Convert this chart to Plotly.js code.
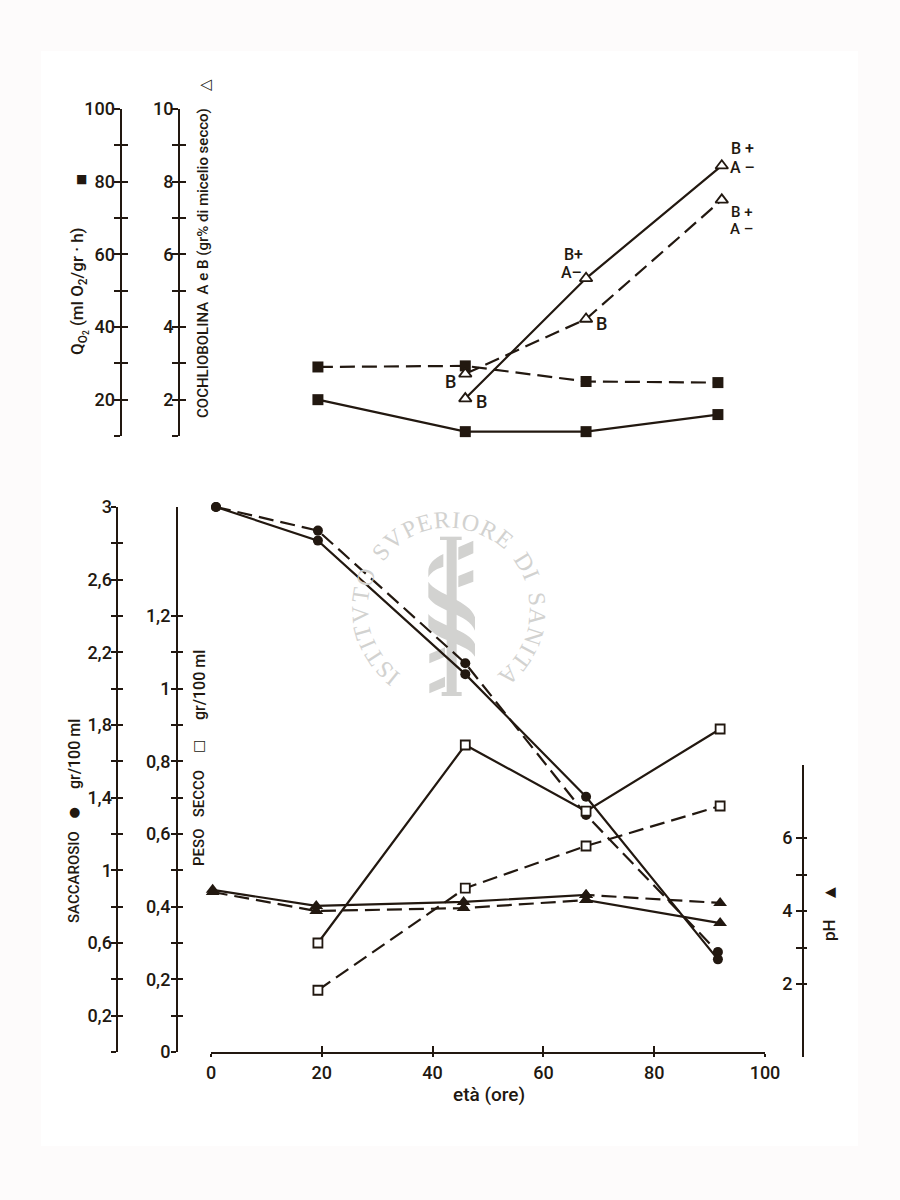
<!DOCTYPE html>
<html><head><meta charset="utf-8">
<script src="https://cdn.plot.ly/plotly-3.0.1.min.js"></script>
<style>html,body{margin:0;padding:0;background:#fdfbfb}</style></head>
<body><div id="chart" style="width:900px;height:1200px"></div>
<script>
// ---- data ----
const hoursQ = [19.3, 45.9, 67.7, 91.5];
const qo2Solid = [20, 11.2, 11.2, 15.9];
const qo2Dashed = [29, 29.3, 25, 24.7];
const hoursTri = [45.9, 67.7, 92.2];
const cochSolid = [2.03, 5.34, 8.44];
const cochDashed = [2.71, 4.22, 7.5];
const hoursSacc = [0.9, 19.3, 45.9, 67.7, 91.5];
const saccSolid = [3, 2.815, 2.08, 1.405, 0.51];
const saccDashed = [3, 2.87, 2.14, 1.305, 0.55];
const hoursPeso = [19.3, 45.9, 67.7, 91.9];
const pesoSolid = [0.30, 0.845, 0.663, 0.889];
const pesoDashed = [0.17, 0.451, 0.567, 0.677];
const hoursPh = [0.3, 19, 45.6, 67.7, 67.7, 91.9];
const phSolid = [4.58, 4.14, 4.25, 4.44, 4.30, 3.67];
const phDashed = [4.52, 4.0, 4.08, 4.30, 4.44, 4.22];
const xTicks = [0, 20, 40, 60, 80, 100];
const qTicks = [10,20,30,40,50,60,70,80,90,100];
const qText = ['','20','','40','','60','','80','','100'];
const cTicks = [1,2,3,4,5,6,7,8,9,10];
const cText = ['','2','','4','','6','','8','','10'];
const sTicks = [0,0.2,0.4,0.6,0.8,1,1.2,1.4,1.6,1.8,2,2.2,2.4,2.6,2.8,3];
const sText = ['','0,2','','0,6','','1','','1,4','','1,8','','2,2','','2,6','','3'];
const pTicks = [0,0.1,0.2,0.3,0.4,0.5,0.6,0.7,0.8,0.9,1,1.1,1.2];
const pText = ['0','','0,2','','0,4','','0,6','','0,8','','1','','1,2'];
const hTicks = [2,3,4,5,6];
const hText = ['2','','4','','6'];
const watermark = 'ISTITVTO SVPERIORE DI SANITA';

// ---- page geometry helpers ----
const W = 900, H = 1200;
const px = v => v / W, py = v => 1 - v / H;
const INK = '#221810', WM = '#d2d2d0';
const FONT = 'Roboto,"Liberation Sans",sans-serif';
const LAB = {family: FONT, size: 18, color: INK, weight: 500};

function line(x, y, ya, dash, sym, size, open) {
  return {x, y, yaxis: ya, mode: 'lines+markers', cliponaxis: false, hoverinfo: 'skip',
    line: {color: INK, width: 2.2, dash: dash ? '15px,7px' : 'solid'},
    marker: {symbol: sym, size, color: open ? '#fff' : INK, line: {color: INK, width: open ? 1.8 : 0}}};
}
const traces = [
  line(hoursQ, qo2Dashed, 'y4', true, 'square', 11, false),
  line(hoursQ, qo2Solid, 'y4', false, 'square', 11, false),
  line(hoursTri, cochDashed, 'y5', true, 'triangle-up', 11, true),
  line(hoursTri, cochSolid, 'y5', false, 'triangle-up', 11, true),
  line(hoursPh, phDashed, 'y3', true, 'triangle-up', 12, false),
  line(hoursPh, phSolid, 'y3', false, 'triangle-up', 12, false),
  line(hoursSacc, saccDashed, 'y', true, 'circle', 10, false),
  line(hoursSacc, saccSolid, 'y', false, 'circle', 10, false),
  line(hoursPeso, pesoDashed, 'y2', true, 'square', 9, true),
  line(hoursPeso, pesoSolid, 'y2', false, 'square', 9, true),
];

const common = {showgrid: false, zeroline: false, showline: true, linecolor: INK, linewidth: 2.2,
  tickcolor: INK, tickwidth: 2, fixedrange: true};
function yAxes(range, top, bottom, pos, vals, text, outLen, inLen, over, standoff) {
  const dom = [py(bottom), py(top)];
  const base = Object.assign({}, common, {range, domain: dom, anchor: 'free', position: px(pos),
    side: 'left', tickmode: 'array', tickvals: vals});
  return [
    Object.assign({}, base, {ticks: 'outside', ticklen: outLen, ticktext: text, tickfont: LAB, ticklabelstandoff: standoff}),
    Object.assign({}, base, {ticks: 'inside', ticklen: inLen, showticklabels: false, showline: false, overlaying: over})
  ];
}
const layout = {
  width: W, height: H, autosize: false, margin: {l: 0, r: 0, t: 0, b: 0},
  paper_bgcolor: '#fdfbfb', plot_bgcolor: 'rgba(0,0,0,0)', showlegend: false, hovermode: false,
  xaxis: Object.assign({}, common, {range: [0, 100], domain: [px(211), px(765)], anchor: 'y', tickmode: 'array',
    tickvals: xTicks, ticktext: xTicks.map(String), ticks: 'outside', ticklen: 3, tickfont: LAB}),
  xaxis2: Object.assign({}, common, {range: [0, 100], domain: [px(211), px(765)], anchor: 'y', overlaying: 'x', tickmode: 'array',
    tickvals: xTicks, showticklabels: false, ticks: 'inside', ticklen: 6, showline: false}),
};
const specs = [
  [[0, 3], 507, 1052, 116.5, sTicks, sText, 5, 5, -5],
  [[0, 1.5], 507, 1052, 177, pTicks, pText, 5, 5, -3],
  [[0, 8], 765, 1057, 803, hTicks, hText, 6, 3, 0],
  [[10, 100], 109, 436, 120.5, qTicks, qText, 6, 6, -5],
  [[1, 10], 109, 436, 179, cTicks, cText, 6, 6, -5],
];
specs.forEach((s, i) => {
  const n = i + 1, name = n === 1 ? 'y' : 'y' + n;
  const [a, b] = yAxes(s[0], s[1], s[2], s[3], s[4], s[5], s[6], s[7], name, s[8]);
  layout['yaxis' + (n === 1 ? '' : n)] = a;
  layout['yaxis' + (n + 5)] = b;
  traces.push({x: [], y: [], yaxis: 'y' + (n + 5), mode: 'lines', hoverinfo: 'skip'});
});
traces.push({x: [], y: [], xaxis: 'x2', yaxis: 'y', mode: 'lines', hoverinfo: 'skip'});

// ---- texts ----
function note(text, x, y, size, angle, extra) {
  return Object.assign({text, xref: 'paper', yref: 'paper', x: px(x), y: py(y), showarrow: false,
    xanchor: 'center', yanchor: 'middle', textangle: angle || 0,
    font: {family: FONT, size: size, color: INK, weight: 500}}, extra || {});
}
const SYM = (s, w) => ({font: {family: '"DejaVu Sans"', size: s, color: INK, weight: w || 400}});
const ann = [
  note('Q<sub>O<sub>2</sub></sub> (ml O<sub>2</sub>/gr · h)', 79, 291, 17, -90),
  note('■', 81, 179, 12, 0, SYM(12)),
  note('COCHLIOBOLINA  A e B (gr% di micelio secco)', 203, 263, 15, -90),
  note('△', 205, 85, 15, -90, SYM(15, 700)),
  note('SACCAROSIO', 74, 877, 15, -90),
  note('●', 74, 811, 12, 0, SYM(13)),
  note('gr/100 ml', 74, 754, 16, -90),
  note('PESO   SECCO', 199, 818, 15, -90),
  note('□', 199, 745, 12, 0, SYM(14, 700)),
  note('gr/100 ml', 199, 685, 16, -90),
  note('pH', 829, 930, 17, -90),
  note('▲', 829, 893, 13, -90, SYM(14)),
  note('età (ore)', 489, 1094, 19, 0),
  note('B+', 573, 254, 16), note('A–', 571, 272, 16),
  note('B +', 742, 149, 16), note('A –', 742, 167, 16),
  note('B +', 742, 212, 15), note('A –', 741, 229, 15),
  note('B', 601, 323, 18), note('B', 450, 381, 18), note('B', 481, 402, 18),
];

// circular watermark, letters spaced by their widths
const CX = 449, CY = 609, R = 89, A0 = -141, A1 = 138;
const wid = {I: .33, S: .56, T: .61, V: .72, O: .72, P: .56, E: .61, R: .67, D: .72, N: .72, A: .72, ' ': .42};
const chars = [...watermark];
const adv = [];
let sum = 0;
chars.forEach((c, i) => { adv.push(sum + wid[c] / 2); sum += wid[c]; });
const first = adv[0], last = adv[adv.length - 1];
chars.forEach((ch, i) => {
  if (ch === ' ') return;
  const deg = A0 + (A1 - A0) * (adv[i] - first) / (last - first), t = deg * Math.PI / 180;
  ann.unshift(note(ch, CX + R * Math.sin(t), CY - R * Math.cos(t), 24, deg,
    {font: {family: '"Liberation Serif"', size: 24, color: WM}}));
});
layout.annotations = ann;

// ---- scan background and watermark emblem, in page pixels (crop coordinates) ----
const Z = (X, Y) => px(340 + X / 3) + ',' + py(510 + Y / 3);
const poly = pts => 'M' + pts.map(p => Z(p[0], p[1])).join(' L') + ' Z';
const curve = (a, b, c, d, e, f, g, h) => 'M' + Z(...a) + ' C' + Z(...b) + ' ' + Z(...c) + ' ' + Z(...d) +
  ' L' + Z(...e) + ' C' + Z(...f) + ' ' + Z(...g) + ' ' + Z(...h) + ' Z';
const wmPaths = [
  poly([[320,88],[350,88],[350,548],[320,548]]),
  poly([[300,80],[365,80],[365,90],[300,90]]),
  poly([[305,546],[365,546],[365,558],[305,558]]),
  poly([[355,112],[400,92],[400,130],[355,150]]),
  poly([[355,198],[400,180],[400,215],[355,232]]),
  poly([[268,432],[315,412],[315,440],[268,460]]),
  poly([[268,522],[315,500],[315,530],[268,550]]),
  curve([310,132],[280,145],[265,165],[265,182],[265,202],[275,182],[295,175],[310,170]),
  curve([265,215],[290,255],[390,270],[405,322],[405,362],[385,310],[290,305],[265,262]),
  curve([265,312],[290,345],[390,360],[405,402],[405,440],[385,400],[290,395],[265,350]),
];
layout.shapes = [
  {type: 'rect', xref: 'paper', yref: 'paper', x0: px(41), x1: px(858), y0: py(1146), y1: py(51),
    fillcolor: '#ffffff', line: {width: 0}, layer: 'below'}
].concat(wmPaths.map(path => ({type: 'path', xref: 'paper', yref: 'paper', path,
  fillcolor: WM, line: {width: 0}, layer: 'below'})));

Plotly.newPlot('chart', traces, layout, {displayModeBar: false, staticPlot: true});
</script></body></html>
